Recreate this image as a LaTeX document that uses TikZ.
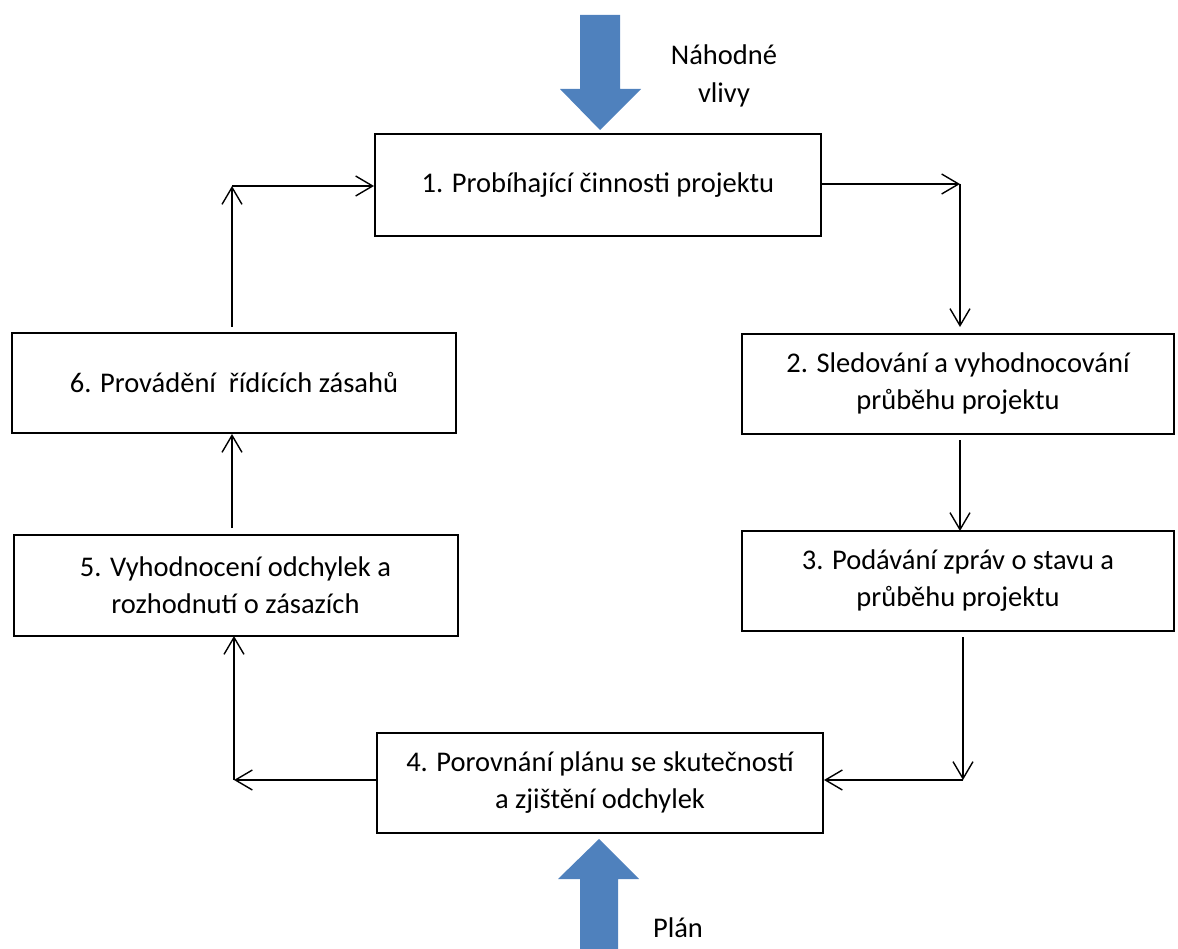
\documentclass[tikz,border=0pt]{standalone}
\usepackage{fontspec}
\setmainfont{Carlito}
\usetikzlibrary{arrows.meta,calc}
\definecolor{officeblue}{RGB}{79,129,189}
\tikzset{
  box/.style={draw=black, line width=2pt, align=center, inner sep=0pt,
    font=\fontsize{28.5}{37}\selectfont},
  conn/.style={draw=black, line width=1.4pt, -{Straight Barb[length=17pt,width=20pt,line width=1.4pt]}},
  bigarrow/.style={fill=officeblue, draw=none},
  lbl/.style={align=center, font=\fontsize{28.5}{38}\selectfont, inner sep=0pt}
}
\begin{document}
\begin{tikzpicture}[x=1pt,y=-1pt]
\useasboundingbox (0,0) rectangle (1178,949);
% boxes
\node[box, minimum width=446pt, minimum height=102pt] (b1) at (598,185) {1. Probíhající činnosti projektu};
\node[box, minimum width=432pt, minimum height=100pt] (b2) at (958,384) {2. Sledování a vyhodnocování\\průběhu projektu};
\node[box, minimum width=432pt, minimum height=100pt] (b3) at (958,581) {3. Podávání zpráv o stavu a\\průběhu projektu};
\node[box, minimum width=446pt, minimum height=100pt] (b4) at (600,783) {4. Porovnání plánu se skutečností\\a zjištění odchylek};
\node[box, minimum width=444pt, minimum height=101pt] (b5) at (235.5,585.5) {5. Vyhodnocení odchylek a\\rozhodnutí o zásazích};
\node[box, minimum width=444pt, minimum height=100pt] (b6) at (234,383) {6. Provádění \ řídících zásahů};
% labels
\node[lbl] (nv) at (724,76) {Náhodné\\vlivy};
\node[lbl] (pl) at (678,928) {Plán};
% big blue arrows
\fill[bigarrow] (580,15) -- (620,15) -- (620,89) -- (641,89) -- (600,130) -- (560,89) -- (580,89) -- cycle;
\fill[bigarrow] (580,949) -- (618,949) -- (618,879) -- (639,879) -- (599,839) -- (558,879) -- (580,879) -- cycle;
% coordinates
\coordinate (c61) at (232,186);
\coordinate (s6) at (232,327);
\coordinate (c12) at (960,184);
\coordinate (e2) at (960,327);
\coordinate (s23) at (960,440);
\coordinate (e23) at (960,531);
\coordinate (s34) at (963,637);
\coordinate (c34) at (963,780);
\coordinate (c45) at (234,780);
\coordinate (e45) at (234,636);
\coordinate (s56) at (232,528);
\coordinate (e56) at (232,434);
% connectors
\draw[conn] (s6) -- (c61);
\draw[conn] (c61) -- (c61 -| b1.west);
\draw[conn] (b1.east |- c12) -- (c12);
\draw[conn] (c12) -- (e2);
\draw[conn] (s23) -- (e23);
\draw[conn] (s34) -- (c34);
\draw[conn] (c34) -- (c34 -| b4.east);
\draw[conn] (b4.west |- c45) -- (c45);
\draw[conn] (c45) -- (e45);
\draw[conn] (s56) -- (e56);
\end{tikzpicture}
\end{document}
